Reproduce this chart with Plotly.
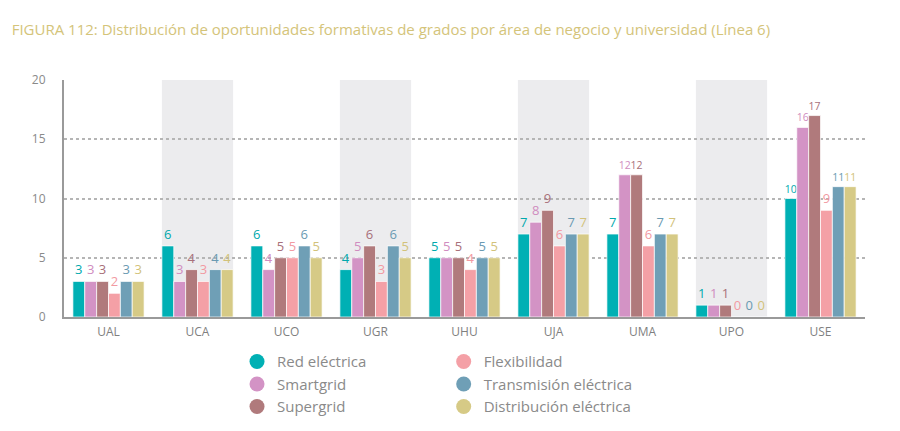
import plotly.graph_objects as go

universidades = ["UAL", "UCA", "UCO", "UGR", "UHU", "UJA", "UMA", "UPO", "USE"]
series_names = ["Red eléctrica", "Smartgrid", "Supergrid", "Flexibilidad",
                "Transmisión eléctrica", "Distribución eléctrica"]
red_electrica = [3, 6, 6, 4, 5, 7, 7, 1, 10]
smartgrid = [3, 3, 4, 5, 5, 8, 12, 1, 16]
supergrid = [3, 4, 5, 6, 5, 9, 12, 1, 17]
flexibilidad = [2, 3, 5, 3, 4, 6, 6, 0, 9]
transmision = [3, 4, 6, 6, 5, 7, 7, 0, 11]
distribucion = [3, 4, 5, 5, 5, 7, 7, 0, 11]
shaded = ["UCA", "UGR", "UJA", "UPO"]
y_ticks = [0, 5, 10, 15, 20]

values = [red_electrica, smartgrid, supergrid, flexibilidad, transmision, distribucion]
colors = ["#00b0b4", "#d393c5", "#b07a7c", "#f4a0a6", "#6f9fb6", "#d6ca86"]
text_colors = ["#00a9ad", "#d08cc0", "#a8707a", "#f29aa2", "#6a9ab2", "#d2c27a"]

FONT = "Open Sans"
fig = go.Figure()

for name, vals, c, tc in zip(series_names, values, colors, text_colors):
    sizes = [13 if v < 10 else 10.5 for v in vals]
    fig.add_trace(go.Bar(
        x=universidades, y=vals, name=name, marker_color=c,
        marker_line=dict(width=1, color="rgba(255,255,255,0.7)"),
        texttemplate="%{y}", textposition="outside", constraintext="none",
        textfont=dict(color=tc, size=sizes, family=FONT),
        cliponaxis=False, showlegend=False,
    ))

for i, (name, c) in enumerate(zip(series_names, colors)):
    fig.add_trace(go.Scatter(
        x=[None], y=[None], mode="markers", name=name,
        marker=dict(symbol="circle", size=15, color=c),
        legend="legend" if i < 3 else "legend2",
    ))

for u in shaded:
    i = universidades.index(u)
    fig.add_shape(type="rect", xref="x", yref="y", x0=i - 0.4, x1=i + 0.4,
                  y0=0, y1=20, fillcolor="#ececee", line_width=0, layer="below")

fig.update_layout(
    width=900, height=431,
    margin=dict(l=64, r=35, t=80, b=114, autoexpand=False),
    plot_bgcolor="white", paper_bgcolor="white",
    barmode="group", bargap=0.2, bargroupgap=0,
    font=dict(family=FONT, color="#8a8a8a"),
    title=dict(
        text="FIGURA 112: Distribución de oportunidades formativas de grados por área de negocio y universidad (Línea 6)",
        x=0.013, xanchor="left", y=0.93, yanchor="middle",
        font=dict(size=15, color="#d4c47a", family=FONT),
    ),
    xaxis=dict(showline=True, linecolor="#9a9a9a", linewidth=2,
               tickfont=dict(size=12, color="#7f7f7f"), ticks="",
               showgrid=False, ticklabelstandoff=3),
    yaxis=dict(range=[0, 20], tickvals=y_ticks, showline=True, linecolor="#9a9a9a",
               linewidth=2, showgrid=True, gridcolor="#b5b5b5", griddash="dot",
               gridwidth=2, zeroline=False, tickfont=dict(size=12, color="#8a8a8a"),
               ticklabelstandoff=14),
    legend=dict(x=0.216, y=0.199, yref="container", xanchor="left", yanchor="top",
                font=dict(size=15, color="#8a8a8a"), tracegroupgap=0,
                bgcolor="rgba(0,0,0,0)"),
    legend2=dict(x=0.474, y=0.199, yref="container", xanchor="left", yanchor="top",
                 font=dict(size=15, color="#8a8a8a"), tracegroupgap=0,
                 bgcolor="rgba(0,0,0,0)"),
)

fig.write_html("out.html")
